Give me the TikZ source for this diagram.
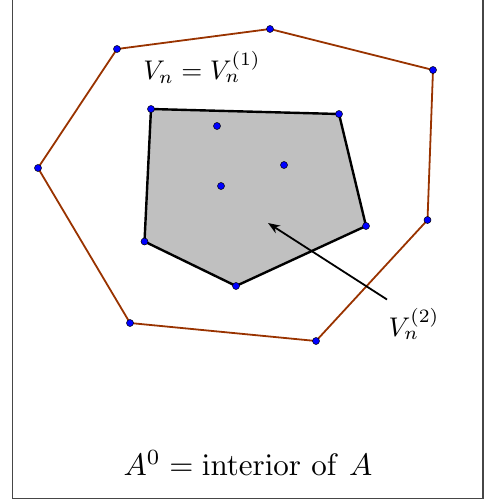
\documentclass[tikz,border=0pt]{standalone}
\usetikzlibrary{arrows.meta}
\definecolor{outerbrown}{RGB}{153,51,0}
\definecolor{fillgray}{RGB}{192,192,192}
\definecolor{framegray}{RGB}{70,70,70}
\tikzset{
  pt/.style={circle,fill=blue,draw=black,line width=0.5pt,inner sep=0pt,minimum size=7pt},
  outerpoly/.style={draw=outerbrown,line width=1.8pt},
  innerpoly/.style={draw=black,fill=fillgray,line width=2.4pt,line join=round},
  pointer/.style={draw=black,line width=1.8pt,-{Stealth[length=12pt,width=9pt]}},
  lab/.style={inner sep=0pt,scale=2.7,transform shape},
  biglab/.style={inner sep=0pt,scale=3.1,transform shape},
  framebox/.style={draw=framegray,line width=1.5pt}
}
\begin{document}
\begin{tikzpicture}[x=1pt,y=-1pt]
\useasboundingbox (0,0) rectangle (489,503);
% frame
\coordinate (f1) at (12.5,-5);
\coordinate (f2) at (12.5,498.5);
\coordinate (f3) at (483,498.5);
\coordinate (f4) at (483,-5);
\draw[framebox] (f1) -- (f2) -- (f3) -- (f4);
% outer polygon
\coordinate (p1) at (117,49);
\coordinate (p2) at (270,29);
\coordinate (p3) at (433,70);
\coordinate (p4) at (427.5,220);
\coordinate (p5) at (316,341);
\coordinate (p6) at (130,323);
\coordinate (p7) at (38,168);
\draw[outerpoly] (p1) -- (p2) -- (p3) -- (p4) -- (p5) -- (p6) -- (p7) -- cycle;
% inner polygon
\coordinate (q1) at (151,109);
\coordinate (q2) at (339,114);
\coordinate (q3) at (366,226);
\coordinate (q4) at (236,286);
\coordinate (q5) at (144.5,241.5);
\draw[innerpoly] (q1) -- (q2) -- (q3) -- (q4) -- (q5) -- cycle;
% arrow
\coordinate (atip) at (268,223);
\coordinate (atail) at (387,299.5);
\draw[pointer] (atail) -- (atip);
% points
\foreach \c in {p1,p2,p3,p4,p5,p6,p7,q1,q2,q3,q4,q5}
  \node[pt] at (\c) {};
\node[pt] (i1) at (217,126) {};
\node[pt] (i2) at (284,165) {};
\node[pt] (i3) at (221,186) {};
% labels
\node[lab] (l1) at (202,67) {$V_n = V_n^{(1)}$};
\node[lab] (l2) at (414,324) {$V_n^{(2)}$};
\node[biglab] (l3) at (248,463) {$A^0 = \mathrm{interior\ of\ } A$};
\end{tikzpicture}
\end{document}
